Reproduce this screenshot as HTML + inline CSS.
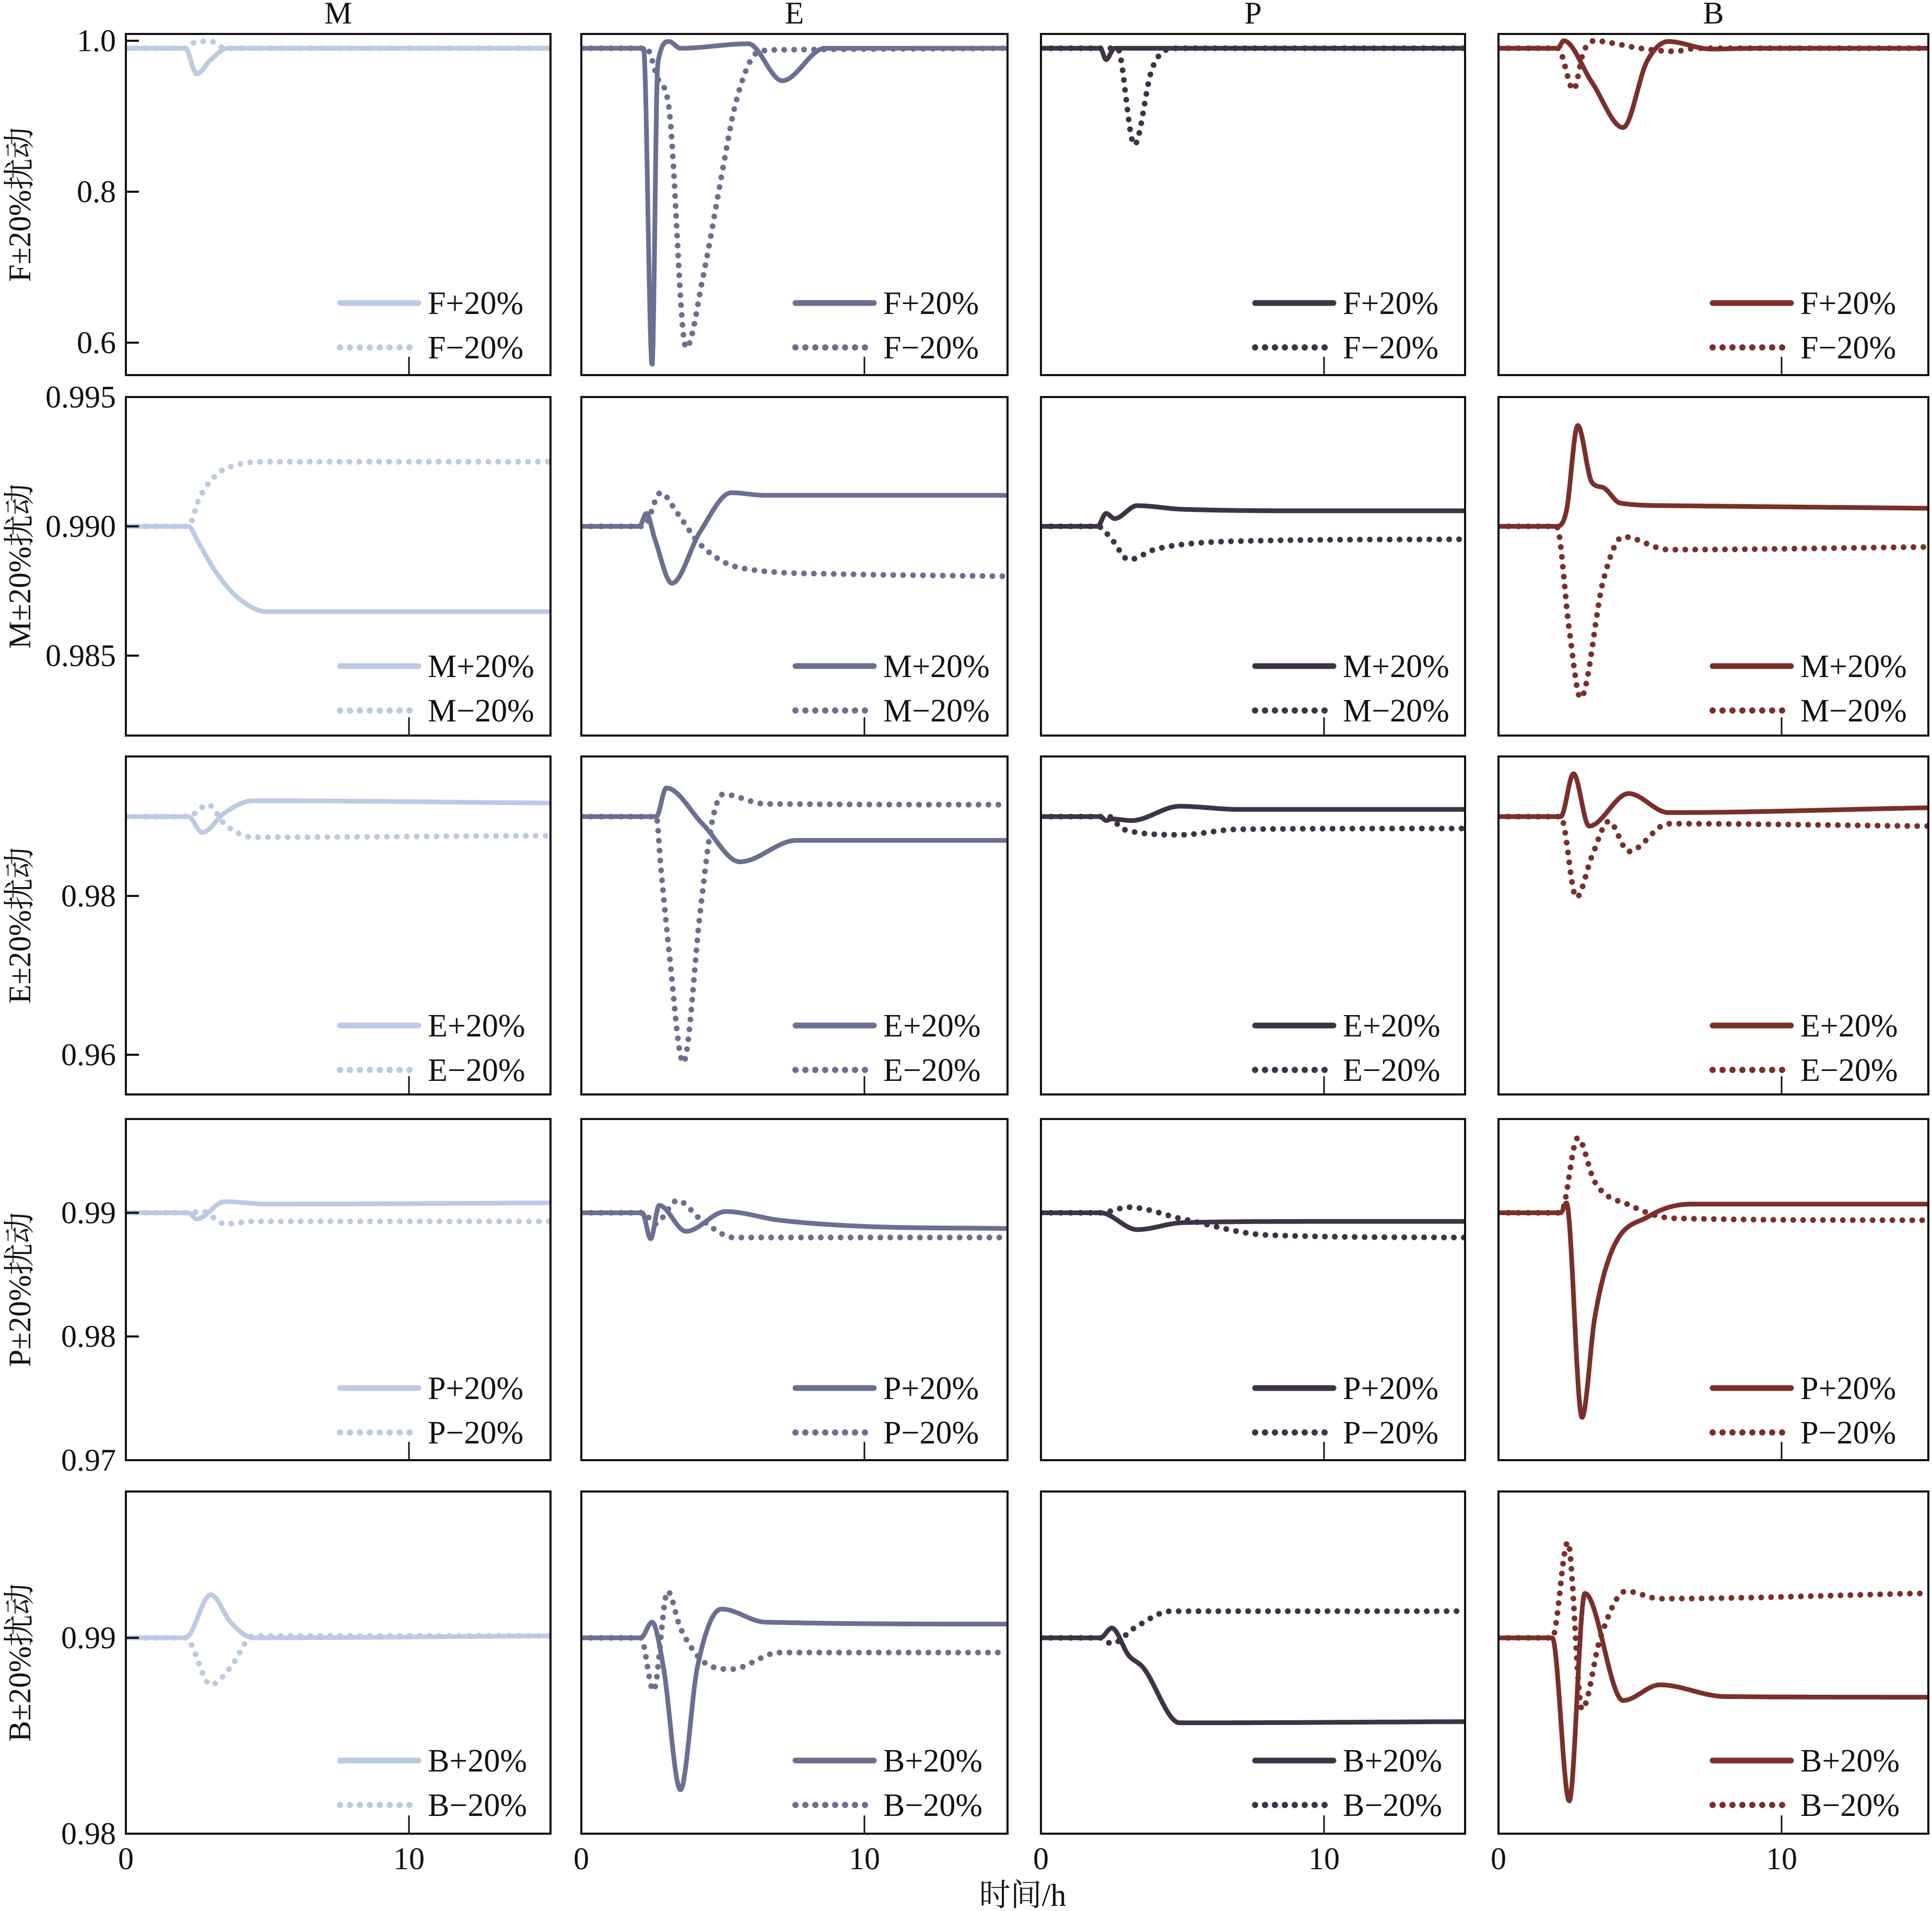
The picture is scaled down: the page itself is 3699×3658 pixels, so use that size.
<!DOCTYPE html>
<html><head><meta charset="utf-8">
<style>
html,body{margin:0;padding:0;background:#fff;}
svg{display:block;}
text{font-family:"Liberation Serif","Noto Serif CJK SC",serif;fill:#111;}
</style></head>
<body>
<svg id="fig" width="3699" height="3658" viewBox="0 0 3699 3658" xmlns="http://www.w3.org/2000/svg"></svg>
<script>
// ---- data (time in h, value) ----
const FMp_t=[0,2.1,2.5,3.0,3.6,15], FMp_v=[0.99,0.99,0.956,0.975,0.99,0.99];
const FMm_t=[0,2.1,2.5,3.0,3.5,15], FMm_v=[0.99,0.99,0.999,0.999,0.99,0.99];
const FEp_t=[0,2.2,2.5,2.7,3.1,3.5,5.9,7.1,8.6,15], FEp_v=[0.99,0.99,0.569,0.97,0.999,0.99,0.996,0.947,0.99,0.99];
const FEm_t=[0,2.3,2.7,3.1,3.7,4.3,4.95,5.4,5.9,6.3,7.1,15], FEm_v=[0.99,0.99,0.95,0.91,0.593,0.687,0.82,0.909,0.968,0.986,0.988,0.99];
const FPp_t=[0,2.1,2.3,2.6,15], FPp_v=[0.99,0.99,0.975,0.99,0.99];
const FPm_t=[0,2.7,3.3,3.9,4.3,4.8,15], FPm_v=[0.99,0.99,0.862,0.96,0.985,0.99,0.99];
const FBp_t=[0,2.1,2.3,3.3,4.4,5.25,6.0,7.5,9,15], FBp_v=[0.99,0.99,1.0,0.945,0.885,0.973,0.999,0.989,0.99,0.99];
const FBm_t=[0,2.1,2.65,3.0,3.4,4.0,5.0,6.2,7,15], FBm_v=[0.99,0.99,0.935,0.985,1.0,0.997,0.99,0.986,0.99,0.99];

const MMp_t=[0,2.2,2.6,3.2,4.0,5.0,15], MMp_v=[0.99,0.99,0.9893,0.9882,0.9872,0.9867,0.9867];
const MMm_t=[0,2.2,2.6,3.2,4,5,15], MMm_v=[0.99,0.99,0.9911,0.9920,0.9924,0.9925,0.9925];
const MEp_t=[0,2.05,2.3,2.6,3.2,4.2,5.3,6.5,15], MEp_v=[0.99,0.99,0.9905,0.9895,0.9878,0.9898,0.9913,0.9912,0.9912];
const MEm_t=[0,2.2,2.8,3.4,4.2,5.6,8.9,15], MEm_v=[0.99,0.99,0.9913,0.9905,0.9893,0.9884,0.98816,0.98807];
const MPp_t=[0,2.0,2.3,2.6,3.4,5,10,15], MPp_v=[0.99,0.99,0.9905,0.9903,0.9908,0.99066,0.9906,0.9906];
const MPm_t=[0,2.0,2.5,3.1,4,5,8,15], MPm_v=[0.99,0.99,0.9895,0.98871,0.9891,0.9893,0.98945,0.9895];
const MBp_t=[0,2.05,2.4,2.8,3.3,3.7,4.3,6,15], MBp_v=[0.99,0.99,0.9906,0.9939,0.9917,0.9915,0.9909,0.9908,0.9907];
const MBm_t=[0,2.05,2.5,2.9,3.7,4.4,6,15], MBm_v=[0.99,0.99,0.986,0.98336,0.9879,0.9896,0.9891,0.9892];

const EMp_t=[0,2.2,2.7,3.5,4.5,15], EMp_v=[0.99,0.99,0.988,0.9905,0.992,0.9917];
const EMm_t=[0,2.2,2.9,3.5,4.5,15], EMm_v=[0.99,0.99,0.9915,0.989,0.9874,0.9876];
const EEp_t=[0,2.65,3.0,4.3,5.6,7.6,15], EEp_v=[0.99,0.99,0.9936,0.989,0.9843,0.987,0.987];
const EEm_t=[0,2.65,2.8,3.1,3.6,4.2,4.6,5.0,6.5,15], EEm_v=[0.99,0.99,0.984,0.973,0.959,0.978,0.989,0.9928,0.9916,0.9915];
const EPp_t=[0,2.1,2.3,2.5,3.2,4.9,7,15], EPp_v=[0.99,0.99,0.9895,0.9897,0.9895,0.9913,0.9909,0.9909];
const EPm_t=[0,2.4,2.9,4.9,7,15], EPm_v=[0.99,0.99,0.9884,0.9877,0.9884,0.9885];
const EBp_t=[0,2.2,2.65,3.2,4.6,6.0,15], EBp_v=[0.99,0.99,0.9954,0.9888,0.9929,0.9905,0.9911];
const EBm_t=[0,2.2,2.75,3.3,3.9,4.6,6.0,15], EBm_v=[0.99,0.99,0.9798,0.985,0.9894,0.9856,0.9891,0.9888];

const PMp_t=[0,2.2,2.5,3.5,5,15], PMp_v=[0.99,0.99,0.9895,0.9909,0.9907,0.9908];
const PMm_t=[0,2.2,2.7,3.5,4.5,15], PMm_v=[0.99,0.99,0.9901,0.9891,0.9893,0.9893];
const PEp_t=[0,2.15,2.45,2.75,3.7,5.1,7,10,15], PEp_v=[0.99,0.99,0.9879,0.9906,0.9885,0.9901,0.9894,0.9889,0.98873];
const PEm_t=[0,2.2,2.6,3.4,4.2,5.4,15], PEm_v=[0.99,0.99,0.9891,0.991,0.9895,0.988,0.988];
const PPp_t=[0,2.1,3.4,5,10,15], PPp_v=[0.99,0.99,0.98864,0.9892,0.9893,0.9893];
const PPm_t=[0,2.1,3.1,5,8,15], PPm_v=[0.99,0.99,0.99045,0.9895,0.9882,0.988];
const PBp_t=[0,2.2,2.4,2.95,3.4,4.0,5.3,6.8,15], PBp_v=[0.99,0.99,0.9908,0.97345,0.9815,0.9869,0.9897,0.9907,0.9907];
const PBm_t=[0,2.2,2.8,3.4,4.65,6.2,15], PBm_v=[0.99,0.99,0.99606,0.9925,0.9906,0.98955,0.9894];

const BMp_t=[0,2.1,3.0,3.7,4.5,15], BMp_v=[0.99,0.99,0.9922,0.9908,0.9900,0.9901];
const BMm_t=[0,2.1,3.0,3.7,4.5,15], BMm_v=[0.99,0.99,0.9876,0.9885,0.9901,0.9901];
const BEp_t=[0,2.1,2.5,2.9,3.5,4.1,4.95,6.5,15], BEp_v=[0.99,0.99,0.9908,0.9885,0.98224,0.9885,0.99147,0.9908,0.9907];
const BEm_t=[0,2.1,2.55,3.05,3.5,4.5,5.3,7,15], BEm_v=[0.99,0.99,0.9873,0.99238,0.9905,0.9886,0.9884,0.98925,0.98925];
const BPp_t=[0,2.1,2.5,3.1,3.6,4.9,15], BPp_v=[0.99,0.99,0.9905,0.9891,0.9885,0.98566,0.98572];
const BPm_t=[0,2.1,2.5,3.3,4.6,15], BPm_v=[0.99,0.99,0.9897,0.9905,0.99136,0.99136];
const BBp_t=[0,1.9,2.5,3.05,4.4,5.7,8,15], BBp_v=[0.99,0.99,0.98167,0.99227,0.9868,0.9876,0.9870,0.98697];
const BBm_t=[0,1.9,2.45,2.95,3.6,4.5,5.7,15], BBm_v=[0.99,0.99,0.99489,0.98634,0.9900,0.99238,0.9920,0.99227];

const colNames=["M","E","P","B"];
const rowNames=["F","M","E","P","B"];
const colColors=["#bccbe3","#6b6f91","#3e3346","#7a2f2b"];
const rowYTop=[1.009,0.995,0.99757,0.99758,0.99747];
const rowYBot=[0.557,0.98191,0.955,0.97,0.98];
const rowTicks=[[1.0,0.8,0.6],[0.995,0.990,0.985],[0.98,0.96],[0.99,0.98,0.97],[0.99,0.98]];
const rowTickLabels=[["1.0","0.8","0.6"],["0.995","0.990","0.985"],["0.98","0.96"],["0.99","0.98","0.97"],["0.99","0.98"]];
const xTicks=[0,10];
const xTickLabels=["0","10"];

const series={
F:[[FMp_t,FMp_v,FMm_t,FMm_v],[FEp_t,FEp_v,FEm_t,FEm_v],[FPp_t,FPp_v,FPm_t,FPm_v],[FBp_t,FBp_v,FBm_t,FBm_v]],
M:[[MMp_t,MMp_v,MMm_t,MMm_v],[MEp_t,MEp_v,MEm_t,MEm_v],[MPp_t,MPp_v,MPm_t,MPm_v],[MBp_t,MBp_v,MBm_t,MBm_v]],
E:[[EMp_t,EMp_v,EMm_t,EMm_v],[EEp_t,EEp_v,EEm_t,EEm_v],[EPp_t,EPp_v,EPm_t,EPm_v],[EBp_t,EBp_v,EBm_t,EBm_v]],
P:[[PMp_t,PMp_v,PMm_t,PMm_v],[PEp_t,PEp_v,PEm_t,PEm_v],[PPp_t,PPp_v,PPm_t,PPm_v],[PBp_t,PBp_v,PBm_t,PBm_v]],
B:[[BMp_t,BMp_v,BMm_t,BMm_v],[BEp_t,BEp_v,BEm_t,BEm_v],[BPp_t,BPp_v,BPm_t,BPm_v],[BBp_t,BBp_v,BBm_t,BBm_v]]
};

// ---- layout ----
const L=[241,1113,1993,2869], R=[1054,1929,2805,3692];
const T=[65,760,1448,2142,2855], Bt=[718,1408,2095,2795,3510];
const PXH=54.2;
const NS="http://www.w3.org/2000/svg";
const svg=document.getElementById('fig');
function mk(tag,attrs,parent){const e=document.createElementNS(NS,tag);for(const k in attrs)e.setAttribute(k,attrs[k]);(parent||svg).appendChild(e);return e;}

function monotone(xs,ys){
  const n=xs.length,d=[],m=new Array(n);
  for(let i=0;i<n-1;i++)d.push((ys[i+1]-ys[i])/(xs[i+1]-xs[i]));
  m[0]=d[0];m[n-1]=d[n-2];
  for(let i=1;i<n-1;i++){m[i]=(d[i-1]*d[i]<=0)?0:(d[i-1]+d[i])/2;}
  for(let i=0;i<n-1;i++){
    if(d[i]===0){m[i]=0;m[i+1]=0;continue;}
    const a=m[i]/d[i],b=m[i+1]/d[i],s=a*a+b*b;
    if(s>9){const t=3/Math.sqrt(s);m[i]=t*a*d[i];m[i+1]=t*b*d[i];}
  }
  return function(x){
    let i=0;while(i<n-2&&x>xs[i+1])i++;
    const h=xs[i+1]-xs[i],t=(x-xs[i])/h,t2=t*t,t3=t2*t;
    return (2*t3-3*t2+1)*ys[i]+(t3-2*t2+t)*h*m[i]+(-2*t3+3*t2)*ys[i+1]+(t3-t2)*h*m[i+1];
  };
}

// column titles
for(let c=0;c<4;c++){
  const t=mk('text',{x:(L[c]+R[c])/2,y:45,'font-size':60,'text-anchor':'middle'});
  
  
  t.textContent=colNames[c];
}

for(let r=0;r<5;r++){
  const yTop=rowYTop[r],yBot=rowYBot[r];
  const ys=v=>T[r]+(yTop-v)/(yTop-yBot)*(Bt[r]-T[r]);
  // row label
  const cy=(T[r]+Bt[r])/2;
  const lab=mk('text',{x:0,y:0,'font-size':60,'text-anchor':'middle',transform:`translate(58,${cy}) rotate(-90)`});
  
  
  lab.textContent=rowNames[r]+'±20%扰动';
  // y tick labels
  rowTicks[r].forEach((v,i)=>{
    const tl=mk('text',{x:222,y:ys(v)+20,'font-size':60,'text-anchor':'end'});
    
    
    tl.textContent=rowTickLabels[r][i];
  });
  for(let c=0;c<4;c++){
    const g=mk('g',{});
    
    
    const xs=t=>L[c]+t*PXH;
    const xmax=(R[c]-L[c])/PXH;
    const clipId='clip'+r+c;
    const cp=mk('clipPath',{id:clipId},g);
    mk('rect',{x:L[c],y:T[r],width:R[c]-L[c],height:Bt[r]-T[r]},cp);
    const s=series[rowNames[r]][c];
    for(let k=0;k<2;k++){
      const tt=s[k*2],vv=s[k*2+1];
      const f=monotone(tt,vv);
      let d='';
      for(let i=0;i<=600;i++){const t=xmax*i/600;d+=(i?'L':'M')+xs(t).toFixed(1)+','+ys(f(t)).toFixed(1);}
      const p=mk('path',{d:d,fill:'none',stroke:colColors[c],'stroke-width':k?11:9,'stroke-linecap':'round','stroke-linejoin':'round','clip-path':`url(#${clipId})`},g);
      if(k)p.setAttribute('stroke-dasharray','0 19');
      
      
    }
    // frame
    const fr=mk('rect',{x:L[c],y:T[r],width:R[c]-L[c],height:Bt[r]-T[r],fill:'none',stroke:'#111','stroke-width':4},g);
    
    
    // ticks
    if(c===0){rowTicks[r].forEach(v=>{mk('line',{x1:L[c],x2:L[c]+25,y1:ys(v),y2:ys(v),stroke:'#111','stroke-width':4},g);});}
    xTicks.forEach(t=>{mk('line',{x1:xs(t),x2:xs(t),y1:Bt[r],y2:Bt[r]-35,stroke:'#111','stroke-width':3},g);});
    // legend
    const lg=mk('g',{},g);
    
    
    const ly1=T[r]+515,ly2=T[r]+600;
    mk('line',{x1:L[c]+410,x2:L[c]+560,y1:ly1,y2:ly1,stroke:colColors[c],'stroke-width':11,'stroke-linecap':'round'},lg);
    mk('line',{x1:L[c]+410,x2:L[c]+560,y1:ly2,y2:ly2,stroke:colColors[c],'stroke-width':12,'stroke-linecap':'round','stroke-dasharray':'0 19'},lg);
    const t1=mk('text',{x:L[c]+578,y:ly1+21,'font-size':62},lg);
    
    
    t1.textContent=rowNames[r]+'+20%';
    const t2=mk('text',{x:L[c]+578,y:ly2+21,'font-size':62},lg);
    
    
    t2.textContent=rowNames[r]+'−20%';
    // x tick labels on bottom row
    if(r===4){
      xTicks.forEach((t,i)=>{
        const xl=mk('text',{x:xs(t),y:3578,'font-size':60,'text-anchor':'middle'});
        
        
        xl.textContent=xTickLabels[i];
      });
    }
  }
}
const xt=mk('text',{x:1958,y:3648,'font-size':60,'text-anchor':'middle'});


xt.textContent='时间/h';
</script>
</body></html>
